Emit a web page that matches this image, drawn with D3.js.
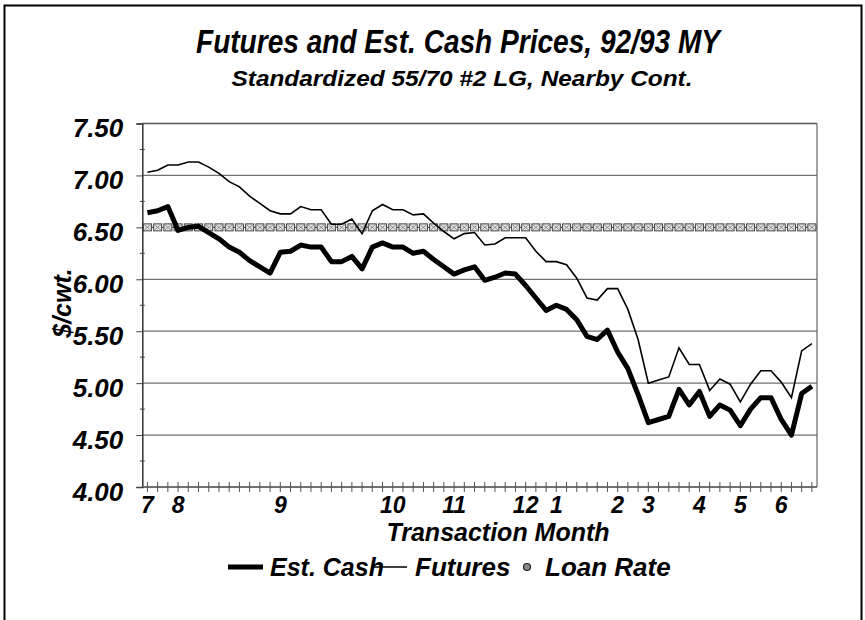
<!DOCTYPE html>
<html>
<head>
<meta charset="utf-8">
<script src="https://cdn.jsdelivr.net/npm/d3@7"></script>
<style>
body{margin:0;background:#fff;}
text{font-family:"Liberation Sans",Arial,sans-serif;font-weight:bold;font-style:italic;fill:#000;}
</style>
</head>
<body>
<div id="chart"></div>
<script>
// weekly observations, July 1992 - June 1993
let cash=[6.64,6.66,6.70,6.47,6.50,6.51,6.45,6.39,6.31,6.26,6.18,6.12,6.06,6.26,6.27,6.33,6.31,6.31,6.17,6.17,
6.22,6.10,6.31,6.35,6.31,6.31,6.25,6.27,6.19,6.12,6.05,6.09,6.12,5.99,6.02,6.06,6.05,5.94,5.82,5.70,
5.75,5.71,5.61,5.45,5.42,5.51,5.30,5.14,4.89,4.62,4.65,4.68,4.94,4.79,4.92,4.68,4.79,4.74,4.59,4.75,
4.86,4.86,4.65,4.50,4.90,4.97];
let futures=[7.03,7.05,7.10,7.10,7.13,7.13,7.08,7.02,6.94,6.89,6.80,6.73,6.66,6.63,6.63,6.70,6.67,6.67,6.53,6.53,
6.58,6.44,6.66,6.72,6.67,6.67,6.62,6.63,6.54,6.46,6.39,6.44,6.45,6.33,6.34,6.40,6.40,6.40,6.27,6.17,
6.17,6.14,6.01,5.82,5.80,5.91,5.91,5.71,5.42,5.00,5.03,5.06,5.34,5.18,5.18,4.93,5.04,4.99,4.82,4.99,
5.12,5.12,5.01,4.86,5.31,5.38];
let loanRate=6.50;
let monthLabels=["7","8","9","10","11","12","1","2","3","4","5","6"];
let monthStart=[0,3,13,24,30,37,40,46,49,54,58,62];
let yTicks=[4.00,4.50,5.00,5.50,6.00,6.50,7.00,7.50];

let width=865;
let height=620;
let plotLeft=142.3, plotRight=817, plotTop=123.5, plotBottom=487;

let chart=d3.select("#chart")
.append("svg")
.attr("width",width).attr("height",height);

// outer frame
chart.append("rect")
.attr("x",4.5).attr("y",5.5).attr("width",857).attr("height",650)
.attr("fill","none").attr("stroke","#000").attr("stroke-width",2);

let x=d3.scalePoint().domain(d3.range(cash.length)).range([plotLeft,plotRight]).padding(0.5);
let y=d3.scaleLinear().domain([4,7.5]).range([plotBottom,plotTop]);

// titles (narrow face squeezed to the original width)
chart.append("text").text("Futures and Est. Cash Prices, 92/93 MY")
.attr("x",458).attr("y",53).attr("text-anchor","middle")
.attr("font-size",34).attr("textLength",524).attr("lengthAdjust","spacingAndGlyphs");
chart.append("text").text("Standardized 55/70 #2 LG, Nearby Cont.")
.attr("x",462).attr("y",86).attr("text-anchor","middle")
.attr("font-size",22).attr("textLength",461).attr("lengthAdjust","spacingAndGlyphs");

// grid
chart.append("g").attr("class","grid")
.selectAll("line")
.data(yTicks.filter(d=>d>4))
.enter()
.append("line")
.attr("x1",plotLeft).attr("x2",plotRight)
.attr("y1",d=>y(d)).attr("y2",d=>y(d))
.attr("stroke",d=>d==7.5?"#555":"#707070").attr("stroke-width",1.3);

chart.append("line")
.attr("x1",plotRight).attr("x2",plotRight).attr("y1",plotTop).attr("y2",plotBottom)
.attr("stroke","#666").attr("stroke-width",1.2);

// y axis
let yAxis=d3.axisLeft(y).tickValues(yTicks).tickFormat(d3.format(".2f")).tickSize(6).tickPadding(13);
let gy=chart.append("g").attr("transform","translate("+plotLeft+",0)").call(yAxis);
gy.select(".domain").attr("stroke","#333").attr("stroke-width",1.5);
gy.selectAll("text").attr("font-size",26).attr("dy","0.5em")
.style("font-family","'Liberation Sans',Arial,sans-serif");
gy.selectAll(".tick line").attr("stroke","#444");

// minor y ticks
chart.append("g")
.selectAll("line")
.data(d3.range(4.25,7.5,0.5))
.enter()
.append("line")
.attr("x1",plotLeft-2.5).attr("x2",plotLeft+2.5)
.attr("y1",d=>y(d)).attr("y2",d=>y(d))
.attr("stroke","#444");

// x axis
chart.append("line")
.attr("x1",plotLeft).attr("x2",plotRight).attr("y1",plotBottom).attr("y2",plotBottom)
.attr("stroke","#444").attr("stroke-width",1.5);
chart.append("g")
.selectAll("line")
.data(d3.range(cash.length))
.enter()
.append("line")
.attr("x1",d=>x(d)).attr("x2",d=>x(d))
.attr("y1",plotBottom-5).attr("y2",plotBottom+5)
.attr("stroke","#555");

chart.append("g")
.selectAll("text")
.data(monthLabels)
.enter()
.append("text")
.text(d=>d)
.attr("x",(d,i)=>x(monthStart[i]))
.attr("y",513)
.attr("text-anchor","middle")
.attr("font-size",23);

chart.append("text").text("Transaction Month")
.attr("x",498).attr("y",541).attr("text-anchor","middle").attr("font-size",25);

chart.append("text").text("$/cwt.")
.attr("transform","translate(71,303) rotate(-90)")
.attr("text-anchor","middle").attr("font-size",25);

// loan rate
chart.append("line")
.attr("x1",x(0)).attr("x2",x(cash.length-1))
.attr("y1",y(loanRate)).attr("y2",y(loanRate))
.attr("stroke","#555").attr("stroke-width",1);
let markers=chart.append("g")
.selectAll("g")
.data(d3.range(cash.length))
.enter()
.append("g")
.attr("transform",d=>"translate("+x(d)+","+y(loanRate)+")");
markers.append("rect")
.attr("x",-4).attr("y",-3.5).attr("width",8).attr("height",7)
.attr("fill","#e4e4e4").attr("stroke","#444").attr("stroke-width",1);
markers.append("path")
.attr("d","M-3,-2.5L3,2.5M-3,2.5L3,-2.5")
.attr("stroke","#777").attr("stroke-width",0.8);

// series
let line=d3.line().x((d,i)=>x(i)).y(d=>y(d));
chart.append("path").datum(futures)
.attr("d",line).attr("fill","none").attr("stroke","#000").attr("stroke-width",1.6);
chart.append("path").datum(cash)
.attr("d",line).attr("fill","none").attr("stroke","#000").attr("stroke-width",5)
.attr("stroke-linejoin","round");

// legend
let ly=567;
chart.append("line").attr("x1",228).attr("x2",263).attr("y1",ly).attr("y2",ly)
.attr("stroke","#000").attr("stroke-width",5);
chart.append("text").text("Est. Cash").attr("x",270).attr("y",ly+9).attr("font-size",25);
chart.append("line").attr("x1",371).attr("x2",407).attr("y1",ly).attr("y2",ly)
.attr("stroke","#000").attr("stroke-width",1.6);
chart.append("text").text("Futures").attr("x",415).attr("y",ly+9).attr("font-size",26);
chart.append("circle").attr("cx",527).attr("cy",ly).attr("r",3.5)
.attr("fill","#888").attr("stroke","#222").attr("stroke-width",1.2);
chart.append("text").text("Loan Rate").attr("x",545).attr("y",ly+9).attr("font-size",26);
</script>
</body>
</html>
